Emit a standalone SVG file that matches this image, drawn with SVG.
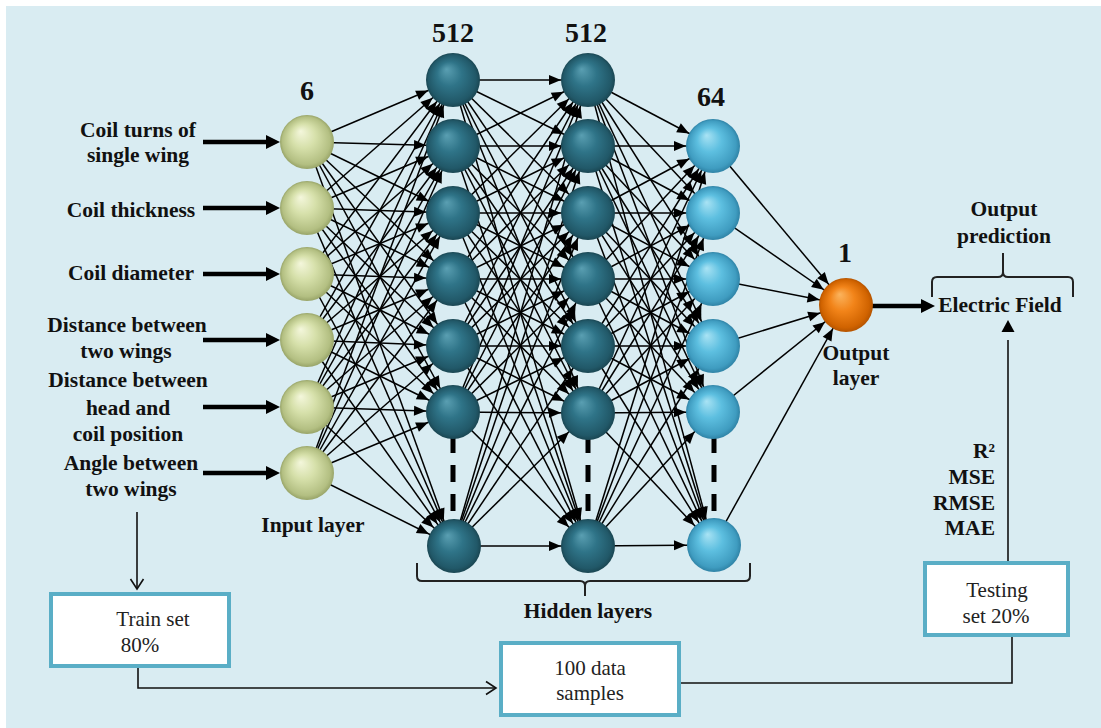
<svg xmlns="http://www.w3.org/2000/svg" width="1101" height="728" viewBox="0 0 1101 728">
<style>
.lb{font-family:"Liberation Serif",serif;font-weight:bold;font-size:21.5px;fill:#111;text-anchor:middle}
.num{font-family:"Liberation Serif",serif;font-weight:bold;font-size:28px;fill:#111;text-anchor:middle}
.bx{font-family:"Liberation Serif",serif;font-size:21px;fill:#222;text-anchor:middle}
.c{stroke:#000;stroke-width:1.5;marker-end:url(#ah)}
.thick{stroke:#000;stroke-width:4.5;marker-end:url(#big)}
.thin{stroke:#111;stroke-width:1.6;fill:none}
.box{fill:#fff;stroke:#5aaec6;stroke-width:4}
.brace{stroke:#222;stroke-width:2;fill:none}
.dash{stroke:#000;stroke-width:5;stroke-dasharray:17 12}
.ni{fill:url(#gi)}.nh{fill:url(#gh)}.n3{fill:url(#g3)}.no{fill:url(#go)}
</style>
<defs>
<radialGradient id="gi" cx="0.5" cy="0.5" r="0.5" fx="0.38" fy="0.3"><stop offset="0" stop-color="#f4f7dc"/><stop offset="0.45" stop-color="#d6e0aa"/><stop offset="0.88" stop-color="#b3bf82"/><stop offset="1" stop-color="#98a468"/></radialGradient>
<radialGradient id="gh" cx="0.5" cy="0.5" r="0.5" fx="0.38" fy="0.3"><stop offset="0" stop-color="#5a9fb2"/><stop offset="0.45" stop-color="#2f7488"/><stop offset="0.88" stop-color="#215868"/><stop offset="1" stop-color="#1a4652"/></radialGradient>
<radialGradient id="g3" cx="0.5" cy="0.5" r="0.5" fx="0.38" fy="0.3"><stop offset="0" stop-color="#a9e3f4"/><stop offset="0.45" stop-color="#5dbfe0"/><stop offset="0.88" stop-color="#3f9cc0"/><stop offset="1" stop-color="#2f83a6"/></radialGradient>
<radialGradient id="go" cx="0.5" cy="0.5" r="0.5" fx="0.38" fy="0.3"><stop offset="0" stop-color="#fbb45e"/><stop offset="0.45" stop-color="#f28419"/><stop offset="0.88" stop-color="#d06300"/><stop offset="1" stop-color="#b55400"/></radialGradient>
<marker id="ah" markerUnits="userSpaceOnUse" markerWidth="30" markerHeight="30" refX="27" refY="0" orient="auto" overflow="visible"><path d="M-12,-5 L0,0 L-12,5 z" fill="#000"/></marker>
<marker id="big" markerUnits="userSpaceOnUse" markerWidth="30" markerHeight="30" refX="-12" refY="0" orient="auto" overflow="visible"><path d="M-14,-7 L0,0 L-14,7 z" fill="#000"/></marker>
<marker id="open" markerUnits="userSpaceOnUse" markerWidth="30" markerHeight="30" refX="0" refY="0" orient="auto" overflow="visible"><path d="M-10,-6.5 L0,0 L-10,6.5" fill="none" stroke="#111" stroke-width="1.6"/></marker>
<marker id="fill" markerUnits="userSpaceOnUse" markerWidth="30" markerHeight="30" refX="-10" refY="0" orient="auto" overflow="visible"><path d="M-2,-6.5 L10,0 L-2,6.5 z" fill="#000"/></marker>
</defs>
<rect x="0" y="0" width="1101" height="728" fill="#fff"/>
<rect x="6" y="6" width="1095" height="722" fill="#d9ecf2"/>

<g id="connectors">
<line class="c" x1="307" y1="142" x2="453" y2="80"/><line class="c" x1="307" y1="142" x2="453" y2="146"/><line class="c" x1="307" y1="142" x2="453" y2="213"/><line class="c" x1="307" y1="142" x2="453" y2="279"/><line class="c" x1="307" y1="142" x2="453" y2="346"/><line class="c" x1="307" y1="142" x2="453" y2="412"/><line class="c" x1="307" y1="142" x2="453" y2="546"/>
<line class="c" x1="307" y1="208" x2="453" y2="80"/><line class="c" x1="307" y1="208" x2="453" y2="146"/><line class="c" x1="307" y1="208" x2="453" y2="213"/><line class="c" x1="307" y1="208" x2="453" y2="279"/><line class="c" x1="307" y1="208" x2="453" y2="346"/><line class="c" x1="307" y1="208" x2="453" y2="412"/><line class="c" x1="307" y1="208" x2="453" y2="546"/>
<line class="c" x1="307" y1="274" x2="453" y2="80"/><line class="c" x1="307" y1="274" x2="453" y2="146"/><line class="c" x1="307" y1="274" x2="453" y2="213"/><line class="c" x1="307" y1="274" x2="453" y2="279"/><line class="c" x1="307" y1="274" x2="453" y2="346"/><line class="c" x1="307" y1="274" x2="453" y2="412"/><line class="c" x1="307" y1="274" x2="453" y2="546"/>
<line class="c" x1="307" y1="340" x2="453" y2="80"/><line class="c" x1="307" y1="340" x2="453" y2="146"/><line class="c" x1="307" y1="340" x2="453" y2="213"/><line class="c" x1="307" y1="340" x2="453" y2="279"/><line class="c" x1="307" y1="340" x2="453" y2="346"/><line class="c" x1="307" y1="340" x2="453" y2="412"/><line class="c" x1="307" y1="340" x2="453" y2="546"/>
<line class="c" x1="307" y1="407" x2="453" y2="80"/><line class="c" x1="307" y1="407" x2="453" y2="146"/><line class="c" x1="307" y1="407" x2="453" y2="213"/><line class="c" x1="307" y1="407" x2="453" y2="279"/><line class="c" x1="307" y1="407" x2="453" y2="346"/><line class="c" x1="307" y1="407" x2="453" y2="412"/><line class="c" x1="307" y1="407" x2="453" y2="546"/>
<line class="c" x1="307" y1="473" x2="453" y2="80"/><line class="c" x1="307" y1="473" x2="453" y2="146"/><line class="c" x1="307" y1="473" x2="453" y2="213"/><line class="c" x1="307" y1="473" x2="453" y2="279"/><line class="c" x1="307" y1="473" x2="453" y2="346"/><line class="c" x1="307" y1="473" x2="453" y2="412"/><line class="c" x1="307" y1="473" x2="453" y2="546"/>
<line class="c" x1="453" y1="80" x2="588" y2="80"/><line class="c" x1="453" y1="80" x2="588" y2="146"/><line class="c" x1="453" y1="80" x2="588" y2="213"/><line class="c" x1="453" y1="80" x2="588" y2="279"/><line class="c" x1="453" y1="80" x2="588" y2="346"/><line class="c" x1="453" y1="80" x2="588" y2="413"/><line class="c" x1="453" y1="80" x2="588" y2="546"/>
<line class="c" x1="453" y1="146" x2="588" y2="80"/><line class="c" x1="453" y1="146" x2="588" y2="146"/><line class="c" x1="453" y1="146" x2="588" y2="213"/><line class="c" x1="453" y1="146" x2="588" y2="279"/><line class="c" x1="453" y1="146" x2="588" y2="346"/><line class="c" x1="453" y1="146" x2="588" y2="413"/><line class="c" x1="453" y1="146" x2="588" y2="546"/>
<line class="c" x1="453" y1="213" x2="588" y2="80"/><line class="c" x1="453" y1="213" x2="588" y2="146"/><line class="c" x1="453" y1="213" x2="588" y2="213"/><line class="c" x1="453" y1="213" x2="588" y2="279"/><line class="c" x1="453" y1="213" x2="588" y2="346"/><line class="c" x1="453" y1="213" x2="588" y2="413"/><line class="c" x1="453" y1="213" x2="588" y2="546"/>
<line class="c" x1="453" y1="279" x2="588" y2="80"/><line class="c" x1="453" y1="279" x2="588" y2="146"/><line class="c" x1="453" y1="279" x2="588" y2="213"/><line class="c" x1="453" y1="279" x2="588" y2="279"/><line class="c" x1="453" y1="279" x2="588" y2="346"/><line class="c" x1="453" y1="279" x2="588" y2="413"/><line class="c" x1="453" y1="279" x2="588" y2="546"/>
<line class="c" x1="453" y1="346" x2="588" y2="80"/><line class="c" x1="453" y1="346" x2="588" y2="146"/><line class="c" x1="453" y1="346" x2="588" y2="213"/><line class="c" x1="453" y1="346" x2="588" y2="279"/><line class="c" x1="453" y1="346" x2="588" y2="346"/><line class="c" x1="453" y1="346" x2="588" y2="413"/><line class="c" x1="453" y1="346" x2="588" y2="546"/>
<line class="c" x1="453" y1="412" x2="588" y2="80"/><line class="c" x1="453" y1="412" x2="588" y2="146"/><line class="c" x1="453" y1="412" x2="588" y2="213"/><line class="c" x1="453" y1="412" x2="588" y2="279"/><line class="c" x1="453" y1="412" x2="588" y2="346"/><line class="c" x1="453" y1="412" x2="588" y2="413"/><line class="c" x1="453" y1="412" x2="588" y2="546"/>
<line class="c" x1="453" y1="546" x2="588" y2="80"/><line class="c" x1="453" y1="546" x2="588" y2="146"/><line class="c" x1="453" y1="546" x2="588" y2="213"/><line class="c" x1="453" y1="546" x2="588" y2="279"/><line class="c" x1="453" y1="546" x2="588" y2="346"/><line class="c" x1="453" y1="546" x2="588" y2="413"/><line class="c" x1="453" y1="546" x2="588" y2="546"/>
<line class="c" x1="588" y1="80" x2="713" y2="146"/><line class="c" x1="588" y1="80" x2="713" y2="213"/><line class="c" x1="588" y1="80" x2="713" y2="279"/><line class="c" x1="588" y1="80" x2="713" y2="346"/><line class="c" x1="588" y1="80" x2="713" y2="412"/><line class="c" x1="588" y1="80" x2="713" y2="545"/>
<line class="c" x1="588" y1="146" x2="713" y2="146"/><line class="c" x1="588" y1="146" x2="713" y2="213"/><line class="c" x1="588" y1="146" x2="713" y2="279"/><line class="c" x1="588" y1="146" x2="713" y2="346"/><line class="c" x1="588" y1="146" x2="713" y2="412"/><line class="c" x1="588" y1="146" x2="713" y2="545"/>
<line class="c" x1="588" y1="213" x2="713" y2="146"/><line class="c" x1="588" y1="213" x2="713" y2="213"/><line class="c" x1="588" y1="213" x2="713" y2="279"/><line class="c" x1="588" y1="213" x2="713" y2="346"/><line class="c" x1="588" y1="213" x2="713" y2="412"/><line class="c" x1="588" y1="213" x2="713" y2="545"/>
<line class="c" x1="588" y1="279" x2="713" y2="146"/><line class="c" x1="588" y1="279" x2="713" y2="213"/><line class="c" x1="588" y1="279" x2="713" y2="279"/><line class="c" x1="588" y1="279" x2="713" y2="346"/><line class="c" x1="588" y1="279" x2="713" y2="412"/><line class="c" x1="588" y1="279" x2="713" y2="545"/>
<line class="c" x1="588" y1="346" x2="713" y2="146"/><line class="c" x1="588" y1="346" x2="713" y2="213"/><line class="c" x1="588" y1="346" x2="713" y2="279"/><line class="c" x1="588" y1="346" x2="713" y2="346"/><line class="c" x1="588" y1="346" x2="713" y2="412"/><line class="c" x1="588" y1="346" x2="713" y2="545"/>
<line class="c" x1="588" y1="413" x2="713" y2="146"/><line class="c" x1="588" y1="413" x2="713" y2="213"/><line class="c" x1="588" y1="413" x2="713" y2="279"/><line class="c" x1="588" y1="413" x2="713" y2="346"/><line class="c" x1="588" y1="413" x2="713" y2="412"/><line class="c" x1="588" y1="413" x2="713" y2="545"/>
<line class="c" x1="588" y1="546" x2="713" y2="146"/><line class="c" x1="588" y1="546" x2="713" y2="213"/><line class="c" x1="588" y1="546" x2="713" y2="279"/><line class="c" x1="588" y1="546" x2="713" y2="346"/><line class="c" x1="588" y1="546" x2="713" y2="412"/><line class="c" x1="588" y1="546" x2="713" y2="545"/>
<line class="c" x1="713" y1="146" x2="846" y2="305"/><line class="c" x1="713" y1="213" x2="846" y2="305"/><line class="c" x1="713" y1="279" x2="846" y2="305"/><line class="c" x1="713" y1="346" x2="846" y2="305"/><line class="c" x1="713" y1="412" x2="846" y2="305"/><line class="c" x1="713" y1="545" x2="846" y2="305"/>
<line class="thick" x1="203" y1="142" x2="268" y2="142"/>
<line class="thick" x1="203" y1="208" x2="268" y2="208"/>
<line class="thick" x1="203" y1="274" x2="268" y2="274"/>
<line class="thick" x1="203" y1="340" x2="268" y2="340"/>
<line class="thick" x1="203" y1="407" x2="268" y2="407"/>
<line class="thick" x1="203" y1="473" x2="268" y2="473"/>
<line class="thick" x1="870" y1="306" x2="923" y2="306"/>
<line class="thin" x1="137" y1="512" x2="137" y2="589" marker-end="url(#open)"/>
<polyline class="thin" points="138,666 138,688 496,688" marker-end="url(#open)"/>
<polyline class="thin" points="679,683 1012,683 1012,636"/>
<line stroke="#111" stroke-width="1.6" x1="1008" y1="562" x2="1008" y2="340" marker-end="url(#fill)"/>
<line class="dash" x1="453" y1="436" x2="453" y2="521"/>
<line class="dash" x1="588" y1="436" x2="588" y2="521"/>
<line class="dash" x1="714" y1="436" x2="714" y2="521"/>
<path class="brace" d="M417,563 V576 Q417,581 422,581 H580 Q585,581 585,586 V596 M585,586 Q585,581 590,581 H745 Q750,581 750,576 V563"/>
<path class="brace" d="M932,297 V282 Q932,277 937,277 H998 Q1003,277 1003,272 V253 M1003,272 Q1003,277 1008,277 H1068 Q1073,277 1073,282 V297"/>
</g>

<g id="input-layer">
<g id="in1"><circle class="ni" cx="307" cy="142" r="27"/></g>
<g id="in2"><circle class="ni" cx="307" cy="208" r="27"/></g>
<g id="in3"><circle class="ni" cx="307" cy="274" r="27"/></g>
<g id="in4"><circle class="ni" cx="307" cy="340" r="27"/></g>
<g id="in5"><circle class="ni" cx="307" cy="407" r="27"/></g>
<g id="in6"><circle class="ni" cx="307" cy="473" r="27"/></g>
</g>
<g id="hidden1">
<g id="h1n1"><circle class="nh" cx="453" cy="80" r="27"/></g>
<g id="h1n2"><circle class="nh" cx="453" cy="146" r="27"/></g>
<g id="h1n3"><circle class="nh" cx="453" cy="213" r="27"/></g>
<g id="h1n4"><circle class="nh" cx="453" cy="279" r="27"/></g>
<g id="h1n5"><circle class="nh" cx="453" cy="346" r="27"/></g>
<g id="h1n6"><circle class="nh" cx="453" cy="412" r="27"/></g>
<g id="h1n7"><circle class="nh" cx="454" cy="546" r="27"/></g>
</g>
<g id="hidden2">
<g id="h2n1"><circle class="nh" cx="588" cy="80" r="27"/></g>
<g id="h2n2"><circle class="nh" cx="588" cy="146" r="27"/></g>
<g id="h2n3"><circle class="nh" cx="588" cy="213" r="27"/></g>
<g id="h2n4"><circle class="nh" cx="588" cy="279" r="27"/></g>
<g id="h2n5"><circle class="nh" cx="588" cy="346" r="27"/></g>
<g id="h2n6"><circle class="nh" cx="588" cy="413" r="27"/></g>
<g id="h2n7"><circle class="nh" cx="588" cy="546" r="27"/></g>
</g>
<g id="hidden3">
<g id="h3n1"><circle class="n3" cx="713" cy="146" r="27"/></g>
<g id="h3n2"><circle class="n3" cx="713" cy="213" r="27"/></g>
<g id="h3n3"><circle class="n3" cx="713" cy="279" r="27"/></g>
<g id="h3n4"><circle class="n3" cx="713" cy="346" r="27"/></g>
<g id="h3n5"><circle class="n3" cx="713" cy="412" r="27"/></g>
<g id="h3n6"><circle class="n3" cx="714" cy="545" r="27"/></g>
</g>
<g id="output-node"><circle class="no" cx="846" cy="305" r="27"/></g>

<g id="labels">
<text class="num" x="307" y="100">6</text>
<text class="num" x="453" y="42">512</text>
<text class="num" x="586" y="42">512</text>
<text class="num" x="711" y="106">64</text>
<text class="num" x="845" y="262">1</text>
<text class="lb" x="138" y="137">Coil turns of</text>
<text class="lb" x="138" y="162">single wing</text>
<text class="lb" x="131" y="217">Coil thickness</text>
<text class="lb" x="131" y="280">Coil diameter</text>
<text class="lb" x="127" y="332">Distance between</text>
<text class="lb" x="126" y="358">two wings</text>
<text class="lb" x="128" y="387">Distance between</text>
<text class="lb" x="128" y="415">head and</text>
<text class="lb" x="128" y="441">coil position</text>
<text class="lb" x="131" y="470">Angle between</text>
<text class="lb" x="131" y="496">two wings</text>
<text class="lb" x="313" y="532">Input layer</text>
<text class="lb" x="588" y="618">Hidden layers</text>
<text class="lb" x="856" y="360">Output</text>
<text class="lb" x="856" y="385">layer</text>
<text class="lb" x="1004" y="216">Output</text>
<text class="lb" x="1004" y="243">prediction</text>
<text class="lb" x="1000" y="312">Electric Field</text>
<text class="lb" x="995" y="458" style="text-anchor:end">R²</text>
<text class="lb" x="995" y="484" style="text-anchor:end">MSE</text>
<text class="lb" x="995" y="510" style="text-anchor:end">RMSE</text>
<text class="lb" x="995" y="535" style="text-anchor:end">MAE</text>
</g>

<g id="train-box"><rect class="box" x="51" y="594" width="178" height="72"/><text class="bx" x="153" y="626">Train set</text><text class="bx" x="140" y="652">80%</text></g>
<g id="data-box"><rect class="box" x="501" y="643" width="178" height="72"/><text class="bx" x="590" y="675">100 data</text><text class="bx" x="590" y="700">samples</text></g>
<g id="test-box"><rect class="box" x="925" y="563" width="143" height="72"/><text class="bx" x="997" y="597">Testing</text><text class="bx" x="996" y="623">set 20%</text></g>
</svg>
